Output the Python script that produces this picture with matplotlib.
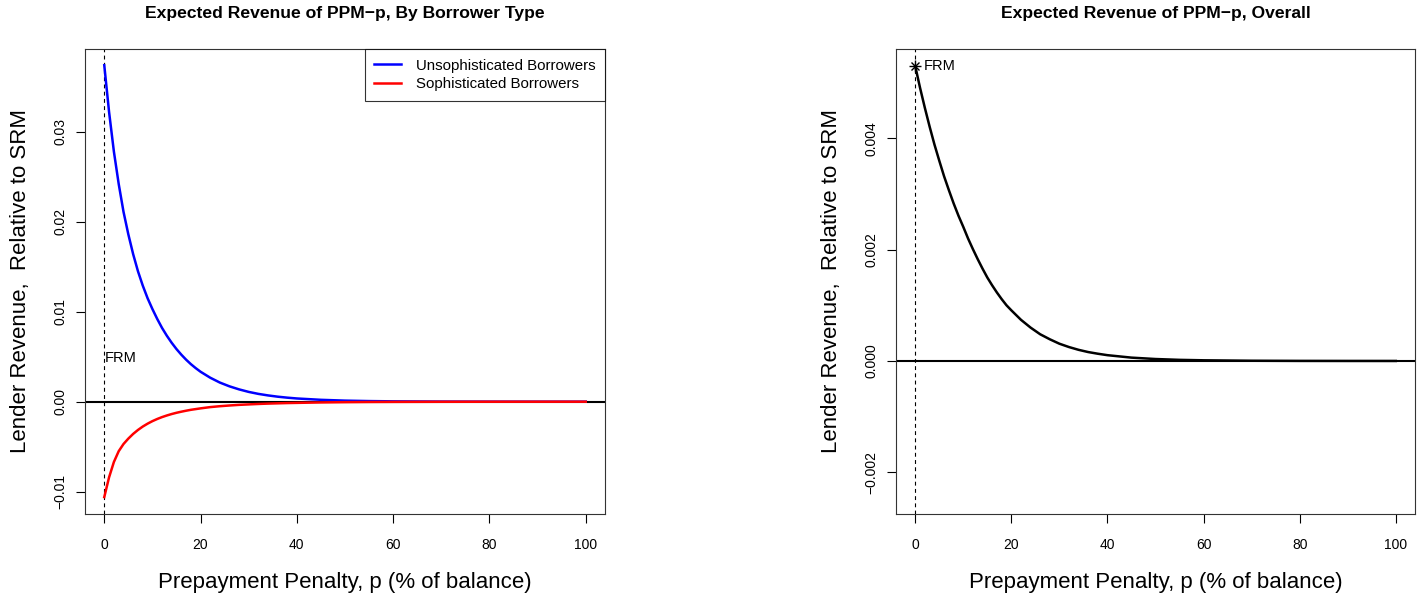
import matplotlib
matplotlib.use("Agg")
import matplotlib.pyplot as plt
from matplotlib.ticker import FixedLocator, FixedFormatter

# ---------------- data ----------------
penalty = [0, 1, 2, 3, 4, 5, 6, 7, 8, 9, 10, 11, 12, 13, 14, 15, 16, 17, 18, 19, 20,
           22, 24, 26, 28, 30, 32, 34, 36, 38, 40,
           45, 50, 55, 60, 70, 80, 90, 100]
unsophisticated = [0.0374, 0.0322, 0.0278, 0.0242, 0.0211, 0.0186, 0.0164, 0.0145, 0.0129,
                   0.0115, 0.0103, 0.0092, 0.0082, 0.00733, 0.00655, 0.00585, 0.00523,
                   0.00467, 0.00417, 0.00373, 0.00333,
                   0.00267, 0.00213, 0.00171, 0.00137, 0.00109, 0.00087, 0.0007, 0.00056,
                   0.00045, 0.00036,
                   0.00021, 0.00012, 0.00007, 0.00004, 0.000013, 0.000004, 0.0000013, 0.0000004]
sophisticated = [-0.0106, -0.0084, -0.0067, -0.0055, -0.0047, -0.0041, -0.00358, -0.00314,
                 -0.00276, -0.00244, -0.00216, -0.00192, -0.00171, -0.00153, -0.00137,
                 -0.00123, -0.00111, -0.001, -0.0009, -0.00082, -0.00074,
                 -0.0006, -0.0005, -0.00042, -0.00035, -0.0003, -0.00025, -0.00021,
                 -0.00018, -0.00015, -0.00013,
                 -0.00008, -0.00005, -0.00003, -0.00002, -0.000008, -0.000003, -0.000001, 0.0]
overall = [0.0053, 0.00491, 0.00455, 0.00421, 0.00389, 0.0036, 0.00332, 0.00307, 0.00283,
           0.00261, 0.00241, 0.0022, 0.00201, 0.00183, 0.00166, 0.0015, 0.00136, 0.00123,
           0.00111, 0.001, 0.00091,
           0.00074, 0.0006, 0.00048, 0.00039, 0.00031, 0.00025, 0.0002, 0.00016, 0.00013,
           0.000104,
           0.00006, 0.000035, 0.00002, 0.000012, 0.000004, 0.0000013, 0.0000004, 0.0000001]
frm_overall = 0.0053

x_ticks = [0, 20, 40, 60, 80, 100]
left_yticks = [-0.01, 0.0, 0.01, 0.02, 0.03]
left_ylabels = ["\u22120.01", "0.00", "0.01", "0.02", "0.03"]
right_yticks = [-0.002, 0.0, 0.002, 0.004]
right_ylabels = ["\u22120.002", "0.000", "0.002", "0.004"]

title_left = "Expected Revenue of PPM\u2212p, By Borrower Type"
title_right = "Expected Revenue of PPM\u2212p, Overall"
xlabel = "Prepayment Penalty, p (% of balance)"
ylabel = "Lender Revenue,  Relative to SRM"
legend_labels = ["Unsophisticated Borrowers", "Sophisticated Borrowers"]

# ---------------- style ----------------
plt.rcParams['font.family'] = ['Liberation Sans', 'DejaVu Sans']
W, H = 1421, 594
fig = plt.figure(figsize=(W / 100, H / 100), dpi=100)

def make_ax(left_px, right_px):
    return fig.add_axes([left_px / W, (H - 514) / H, (right_px - left_px) / W, (514 - 49) / H])

def style(ax, yticks, ylabels, ylim, title):
    ax.set_xlim(-4, 104)
    ax.set_ylim(*ylim)
    ax.xaxis.set_major_locator(FixedLocator(x_ticks))
    ax.set_xticklabels([str(t) for t in x_ticks])
    ax.yaxis.set_major_locator(FixedLocator(yticks))
    ax.yaxis.set_major_formatter(FixedFormatter(ylabels))
    for lab in ax.get_yticklabels():
        lab.set_rotation(90)
        lab.set_va('center')
    ax.tick_params(axis='both', length=6.5, width=0.8, labelsize=10, colors='black')
    ax.tick_params(axis='x', pad=11)
    ax.tick_params(axis='y', pad=6)
    for sp in ax.spines.values():
        sp.set_linewidth(0.8)
        sp.set_color('#333333')
    ax.set_xlabel(xlabel, fontsize=16, labelpad=14)
    ax.set_ylabel(ylabel, fontsize=16, labelpad=16)
    ax.set_title(title, fontsize=12.6, fontweight='bold', pad=22)
    ax.axvline(0, color='black', lw=0.8, ls=(0, (3.5, 3)))
    ax.axhline(0, color='black', lw=1.5)

# Left panel
axl = make_ax(85, 605)
style(axl, left_yticks, left_ylabels, (-0.01248, 0.0392), title_left)
lb, = axl.plot(penalty, unsophisticated, color='#0000ff', lw=1.8)
lr, = axl.plot(penalty, sophisticated, color='#ff0000', lw=1.8)
axl.text(0, 0.0049, "FRM", fontsize=10.5, ha='left', va='center')
leg = axl.legend([lb, lr], legend_labels, loc='upper right', fontsize=10.8,
                 frameon=True, fancybox=False, borderaxespad=0, handlelength=1.8,
                 handletextpad=0.95, labelspacing=0.3, borderpad=0.65)
leg.get_frame().set_edgecolor('black')
leg.get_frame().set_linewidth(0.8)

# Right panel
axr = make_ax(896, 1415)
style(axr, right_yticks, right_ylabels, (-0.00275, 0.005606), title_right)
axr.plot(penalty, overall, color='black', lw=1.8)
axr.plot([0], [frm_overall], marker='+', color='black', ms=8, mew=1)
axr.plot([0], [frm_overall], marker='x', color='black', ms=6, mew=1)
axr.text(1.8, frm_overall, "FRM", fontsize=10.5, ha='left', va='center')

fig.savefig("out.png", dpi=100)
